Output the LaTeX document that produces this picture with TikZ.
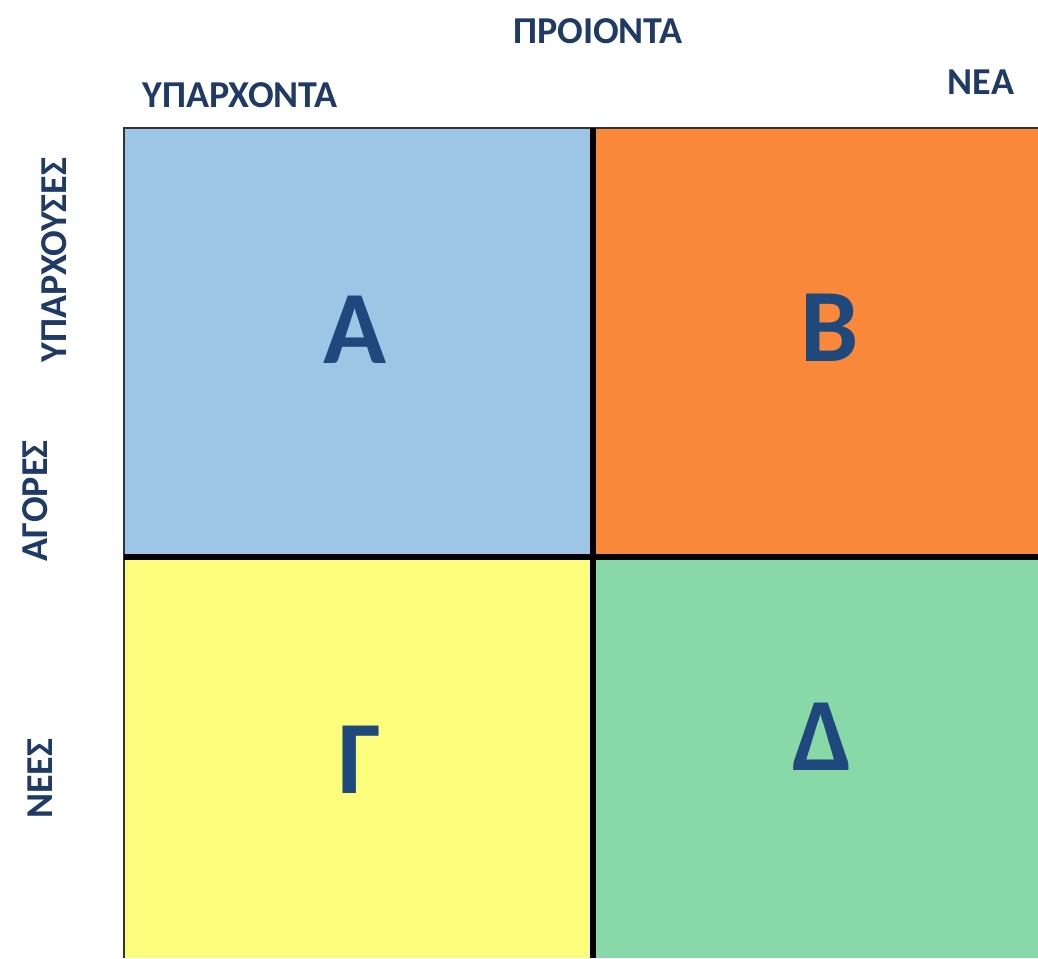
\documentclass[tikz,border=0pt]{standalone}
\usepackage{fontspec}
\setmainfont{Carlito}
\definecolor{qblue}{RGB}{157,197,230}
\definecolor{qorange}{RGB}{249,136,58}
\definecolor{qyellow}{RGB}{253,253,125}
\definecolor{qgreen}{RGB}{136,216,168}
\definecolor{lbl}{RGB}{31,58,100}
\definecolor{big}{RGB}{31,72,124}
\begin{document}
\begin{tikzpicture}[x=1pt,y=-1pt,
  axis/.style={text=lbl,font=\bfseries\fontsize{38}{38}\selectfont,inner sep=0pt},
  bigletter/.style={text=big,font=\bfseries\fontsize{104}{104}\selectfont,inner sep=0pt},
  quad/.style={draw=none}]
\useasboundingbox (0,0) rectangle (1038,958);
\fill[white] (0,0) rectangle (1038,958);
% quadrants
\fill[qblue] (124,128) rectangle (593,557);
\fill[qorange] (593,128) rectangle (1038,557);
\fill[qyellow] (124,557) rectangle (593,958);
\fill[qgreen] (593,557) rectangle (1038,958);
% borders
\draw[line width=1.5pt,black!80] (124,958) -- (124,128) -- (1038,128);
\draw[line width=6pt,black] (593,128) -- (593,958);
\draw[line width=6pt,black] (124,557) -- (1038,557);
% labels
\node[axis] (prod) at (598,31) {ΠΡΟΙΟΝΤΑ};
\node[axis] (pexist) at (240,95) {ΥΠΑΡΧΟΝΤΑ};
\node[axis] (pnew) at (981,82) {ΝΕΑ};
\node[axis,rotate=90] (mexist) at (54,260) {ΥΠΑΡΧΟΥΣΕΣ};
\node[axis,rotate=90] (mark) at (35,501) {ΑΓΟΡΕΣ};
\node[axis,rotate=90] (mnew) at (40,779) {ΝΕΕΣ};
% big letters
\node[bigletter] (qa) at (355,330) {Α};
\node[bigletter] (qb) at (830,328) {Β};
\node[bigletter] (qc) at (360,760) {Γ};
\node[bigletter] (qd) at (823,737) {Δ};
\end{tikzpicture}
\end{document}
